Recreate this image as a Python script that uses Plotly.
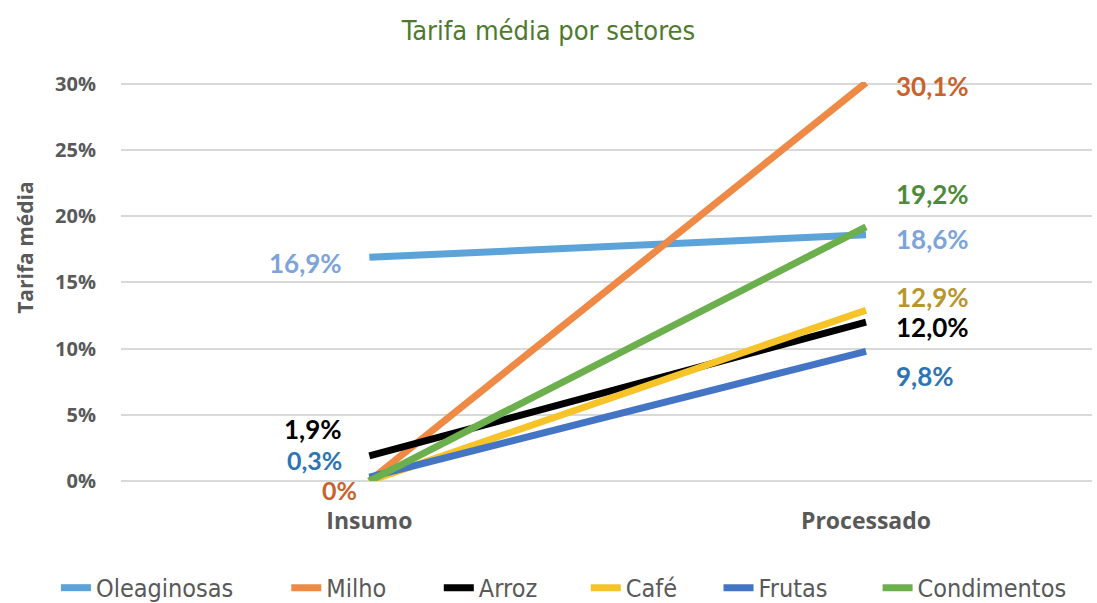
import plotly.graph_objects as go

categories = ["Insumo", "Processado"]
series_names = ["Oleaginosas", "Milho", "Arroz", "Café", "Frutas", "Condimentos"]
oleaginosas = [16.9, 18.6]
milho = [0.0, 30.1]
arroz = [1.9, 12.0]
cafe = [0.0, 12.9]
frutas = [0.3, 9.8]
condimentos = [0.0, 19.2]
series_values = [oleaginosas, milho, arroz, cafe, frutas, condimentos]
tick_values = [0, 5, 10, 15, 20, 25, 30]
tick_labels = ["0%", "5%", "10%", "15%", "20%", "25%", "30%"]

line_colors = ["#5ba3d9", "#ee8a45", "#000000", "#f6c328", "#4475c4", "#6cb04e"]
label_colors = ["#7da4da", "#c9632d", "#000000", "#b8962e", "#2e74b5", "#4f8a3a"]

start_label = [True, True, True, False, True, False]
start_shift = [-6, -9, 27, 0, 17, 0]
end_shift = [-4, -3, -5, 13, -25, 33]
# legend entry left edges (container fraction)
legend_x = [0.051, 0.261, 0.400, 0.534, 0.655, 0.800]

fig = go.Figure()
for i, (name, vals, col) in enumerate(zip(series_names, series_values, line_colors)):
    fig.add_trace(go.Scatter(
        x=categories, y=vals, name=name, mode="lines",
        line=dict(color=col, width=7), cliponaxis=False,
        legend="legend" if i == 0 else f"legend{i+1}",
    ))

def fmt(v):
    if v == 0:
        return "0%"
    return f"{v:.1f}".replace(".", ",") + "%"

annotations = []
for i, vals in enumerate(series_values):
    if start_label[i]:
        annotations.append(dict(
            x=categories[0], y=vals[0], text=f"<b>{fmt(vals[0])}</b>",
            showarrow=False, xanchor="right", yanchor="middle",
            xshift=-25 if vals[0] != 0 else -10, yshift=start_shift[i],
            font=dict(family="Lato", size=25 if vals[0] < 1 else 26, color=label_colors[i]),
        ))
    annotations.append(dict(
        x=categories[1], y=vals[1], text=f"<b>{fmt(vals[1])}</b>",
        showarrow=False, xanchor="left", yanchor="middle",
        xshift=28, yshift=end_shift[i],
        font=dict(family="Lato", size=26, color=label_colors[i]),
    ))

# y-axis title as rotated annotation
annotations.append(dict(
    xref="paper", yref="paper", x=-0.099, y=0.584, text="<b>Tarifa média</b>",
    textangle=-90, showarrow=False, xanchor="center", yanchor="middle",
    font=dict(family="Open Sans", size=21, color="#595959"),
))

condensed = "DejaVu Sans Condensed, Liberation Sans Narrow, Roboto, sans-serif"

legend_style = dict(orientation="h", xanchor="left", xref="container",
                    y=-0.268, yanchor="middle", bgcolor="rgba(0,0,0,0)",
                    font=dict(family=condensed, size=25, color="#595959"),
                    tracegroupgap=0, itemwidth=30)
legends = {}
for i, lx in enumerate(legend_x):
    key = "legend" if i == 0 else f"legend{i+1}"
    legends[key] = dict(legend_style, x=lx)

fig.update_layout(
    width=1097, height=603,
    paper_bgcolor="white", plot_bgcolor="white",
    margin=dict(l=121, r=5, t=82, b=122, autoexpand=False),
    title=dict(text="Tarifa média por setores", x=0.5, xref="container", y=0.95, yanchor="middle",
               font=dict(family=condensed, size=27, color="#4e7a2e")),
    annotations=annotations,
    showlegend=True,
    **legends,
)
fig.update_xaxes(
    type="category", range=[-0.5, 1.455], showgrid=False, showline=False, zeroline=False,
    ticks="", ticklabelstandoff=24,
    tickfont=dict(family="Open Sans", size=23, color="#595959", weight="bold"),
)
fig.update_yaxes(
    range=[0, 30.15], tickvals=tick_values, ticktext=tick_labels,
    showgrid=True, gridcolor="#d9d9d9", gridwidth=1.5,
    zeroline=True, zerolinecolor="#d9d9d9", zerolinewidth=1.5, showline=False, ticks="",
    ticklabelstandoff=24,
    tickfont=dict(family="Open Sans", size=20, color="#595959", weight="bold"),
)

fig.write_html("out.html", config={"displayModeBar": False},
               post_script="document.body.style.margin='0px';")
